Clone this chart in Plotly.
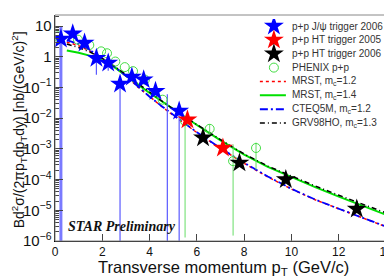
import plotly.graph_objects as go

# ---------------- data ----------------
# theory curves
curve_x = [0.5, 1.0, 1.5, 2.0, 2.5, 3.0, 3.5, 4.0, 4.5, 5.0, 5.5, 6.0, 7.0, 8.0, 9.0, 10.0, 11.0, 12.0, 13.0, 14.0, 14.25]
mrst12 = [3.0, 2.3, 1.5, 0.87, 0.47, 0.235, 0.105, 0.049, 0.0245, 0.0123, 0.0064, 0.0034, 0.00102, 3.4e-4, 1.22e-4, 4.9e-5, 2.2e-5, 1.1e-5, 5.6e-6, 2.9e-6, 2.45e-6]
mrst14 = [1.6, 1.35, 1.07, 0.76, 0.47, 0.25, 0.126, 0.066, 0.036, 0.02, 0.011, 0.006, 0.0019, 6.5e-4, 2.6e-4, 1.2e-4, 5.7e-5, 2.8e-5, 1.4e-5, 7.0e-6, 6.0e-6]
cteq5m = [3.5, 2.6, 1.6, 0.89, 0.48, 0.24, 0.107, 0.05, 0.025, 0.0126, 0.0066, 0.0035, 0.00105, 3.5e-4, 1.26e-4, 5.0e-5, 2.24e-5, 1.12e-5, 5.75e-6, 3.0e-6, 2.5e-6]
grv98 = [2.6, 2.0, 1.4, 0.89, 0.5, 0.26, 0.13, 0.069, 0.037, 0.02, 0.011, 0.0062, 0.002, 6.8e-4, 2.75e-4, 1.28e-4, 6.2e-5, 3.1e-5, 1.6e-5, 8.2e-6, 7.4e-6]

# STAR p+p J/psi trigger 2006
jpsi_x = [0.25, 0.75, 1.25, 1.75, 2.25, 2.75, 3.25, 3.75, 4.25, 5.25]
jpsi_y = [3.8, 5.6, 2.8, 0.9, 0.63, 0.13, 0.22, 0.18, 0.075, 0.017]
# error bars (x, low, high) for the J/psi trigger data, incl. a point whose central value is off scale
jpsi_err_x = [0.25, 1.75, 2.25, 2.75, 4.75, 5.25]
jpsi_err_lo = [1e-6, 0.26, 0.35, 1e-6, 1e-6, 1e-6]
jpsi_err_hi = [10.0, 1.2, 0.8, 0.18, 0.06, 0.022]

# STAR p+p HT trigger 2005
ht05_x = [5.6, 7.1]
ht05_y = [0.0089, 0.00107]

# STAR p+p HT trigger 2006
ht06_x = [6.26, 7.8, 9.76, 12.76]
ht06_y = [0.0023, 3.5e-4, 1.0e-4, 1.1e-5]

# PHENIX p+p
phx_x = [0.12, 0.97, 1.45, 1.95, 2.2, 2.55, 2.95, 3.3, 3.8, 4.55, 5.5, 6.54, 7.53, 8.5]
phx_y = [4.6, 3.6, 2.4, 1.5, 1.3, 0.7, 0.46, 0.34, 0.18, 0.04, 0.008, 0.0045, 0.0004, 0.00107]
phx_err_x = [5.5, 6.54, 7.53, 8.5]
phx_err_lo = [1.3e-6, 0.0031, 1.5e-6, 2.1e-4]
phx_err_hi = [0.008, 0.0064, 0.0014, 0.0016]

x_ticks = [0, 2, 4, 6, 8, 10, 12, 14]

labels = ["p+p J/ψ trigger 2006", "p+p HT trigger 2005", "p+p HT trigger 2006", "PHENIX p+p",
          "MRST, m<sub>c</sub>=1.2", "MRST, m<sub>c</sub>=1.4", "CTEQ5M, m<sub>c</sub>=1.2", "GRV98HO, m<sub>c</sub>=1.3"]

# ---------------- styles ----------------
BLUE, RED, BLACK, GREEN_PT, GREEN_LN = "#0000ff", "#ff0000", "#000000", "#44dd44", "#00e000"
star = lambda c: dict(symbol="star", size=15, color=c, line=dict(width=0))
circ = dict(symbol="circle-open", size=9, color=GREEN_PT, line=dict(width=1))
ln_mrst12 = dict(color=RED, width=1.5, dash="dot")
ln_mrst14 = dict(color=GREEN_LN, width=2)
ln_cteq = dict(color=BLUE, width=1.8, dash="8px,3px,2px,3px")
ln_grv = dict(color=BLACK, width=1.5, dash="5px,3px,1px,3px")

fig = go.Figure()


def seg(xs, lo, hi):
    X, Y = [], []
    for a, b, c in zip(xs, lo, hi):
        X += [a, a, None]
        Y += [b, c, None]
    return X, Y


# theory curves
for ys, ln, nm in [(mrst12, ln_mrst12, labels[4]), (mrst14, ln_mrst14, labels[5]),
                   (cteq5m, ln_cteq, labels[6]), (grv98, ln_grv, labels[7])]:
    fig.add_trace(go.Scatter(x=curve_x, y=ys, mode="lines", name=nm, showlegend=False, line=ln))

# error bars
ex, ey = seg(jpsi_err_x[:1], jpsi_err_lo[:1], jpsi_err_hi[:1])
fig.add_trace(go.Scatter(x=ex, y=ey, mode="lines", showlegend=False, hoverinfo="skip",
                         line=dict(color="#7a7aff", width=3)))
ex, ey = seg(jpsi_err_x[1:], jpsi_err_lo[1:], jpsi_err_hi[1:])
fig.add_trace(go.Scatter(x=ex, y=ey, mode="lines", showlegend=False, hoverinfo="skip",
                         line=dict(color="#5a5aff", width=1.2)))
ex, ey = seg(phx_err_x, phx_err_lo, phx_err_hi)
fig.add_trace(go.Scatter(x=ex, y=ey, mode="lines", showlegend=False, hoverinfo="skip",
                         line=dict(color="#66dd66", width=1)))

# data points
fig.add_trace(go.Scatter(x=phx_x, y=phx_y, mode="markers", name=labels[3], showlegend=False, marker=circ))
fig.add_trace(go.Scatter(x=jpsi_x, y=jpsi_y, mode="markers", name=labels[0], showlegend=False, marker=star(BLUE)))
fig.add_trace(go.Scatter(x=ht05_x, y=ht05_y, mode="markers", name=labels[1], showlegend=False, marker=star(RED)))
fig.add_trace(go.Scatter(x=ht06_x, y=ht06_y, mode="markers", name=labels[2], showlegend=False, marker=star(BLACK)))

# ---------------- legend (drawn on an overlay axis, rows 0..7) ----------------
marker_styles = [star(BLUE), star(RED), star(BLACK), circ]
for i, mk in enumerate(marker_styles):
    fig.add_trace(go.Scatter(x=[16], y=[i], mode="markers", marker=mk, xaxis="x2", yaxis="y2",
                             showlegend=False, hoverinfo="skip"))
for i, ln in zip(range(4, 8), [ln_mrst12, ln_mrst14, ln_cteq, ln_grv]):
    fig.add_trace(go.Scatter(x=[2, 28], y=[i, i], mode="lines", line=ln, xaxis="x2", yaxis="y2",
                             showlegend=False, hoverinfo="skip"))
for i, t in enumerate(labels):
    fig.add_annotation(text=t, xref="x2", yref="y2", x=32, y=i, xanchor="left", yanchor="middle",
                       showarrow=False, font=dict(size=10, color="#333"))

fig.add_annotation(text="<b><i>STAR Preliminary</i></b>", xref="paper", yref="paper",
                   x=0.033, y=0.066, xanchor="left", yanchor="middle", showarrow=False,
                   font=dict(family="Liberation Serif", size=14, color="#111"))

# axis titles
fig.add_annotation(text="Transverse momentum p<sub>T</sub> (GeV/c)", xref="paper", yref="paper",
                   x=0.5, y=0, yshift=-15, xanchor="center", yanchor="top", showarrow=False,
                   font=dict(size=16.5, color="#111"))
fig.add_annotation(text="Bd<sup>2</sup>σ/(2πp<sub>T</sub>dp<sub>T</sub>dy) [nb/(GeV/c)<sup>2</sup>]",
                   xref="paper", yref="paper", x=0, xshift=-36, y=0.49, textangle=-90,
                   xanchor="center", yanchor="middle", showarrow=False,
                   font=dict(size=14, color="#111"))

fig.add_shape(type="rect", xref="paper", yref="paper", x0=0, y0=0, x1=1, y1=1,
              line=dict(color="#888", width=1))

fig.update_layout(
    width=392, height=278,
    margin=dict(l=47, r=8, t=7, b=45),
    paper_bgcolor="white", plot_bgcolor="white",
    font=dict(family="Liberation Sans", color="#222"),
    showlegend=False,
    xaxis=dict(range=[0, 14.25], tickmode="array", tickvals=x_ticks, ticks="inside", ticklen=7,
               showgrid=False, zeroline=False, showline=True, linecolor="black", linewidth=1,
               tickfont=dict(size=12, color="#111"), automargin=False, ticklabeloverflow="allow"),
    yaxis=dict(type="log", range=[-6, 1.36], dtick=1, ticks="inside", ticklen=8,
               exponentformat="power", showgrid=False, zeroline=False, showline=True,
               linecolor="black", linewidth=1, tickfont=dict(size=12, color="#111"),
               minor=dict(ticks="inside", ticklen=4, showgrid=False),
               automargin=False, ticklabeloverflow="allow"),
    xaxis2=dict(domain=[0.602, 1.0], range=[0, 134], visible=False, fixedrange=True),
    yaxis2=dict(domain=[0.491, 0.982], range=[7.5, -0.5], visible=False, fixedrange=True,
                anchor="x2"),
)
fig.update_layout(xaxis2_anchor="y2")

fig.write_html("out.html")
